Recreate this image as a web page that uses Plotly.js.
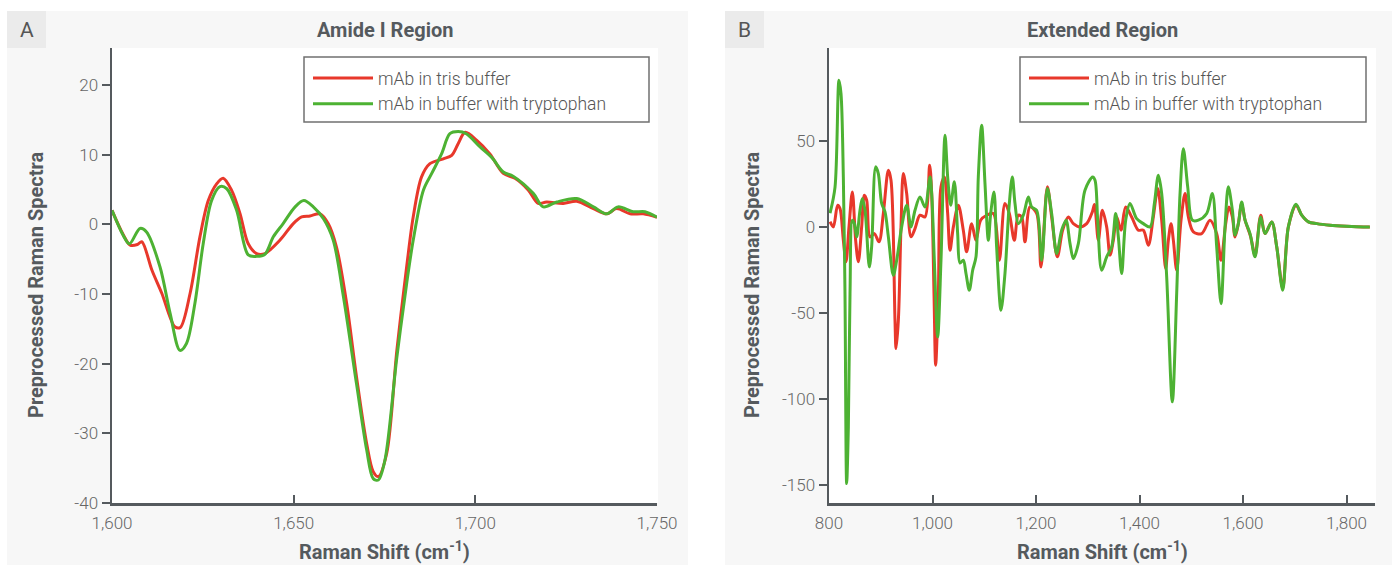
<!DOCTYPE html>
<html><head><meta charset="utf-8">
<script src="https://cdn.plot.ly/plotly-3.0.1.min.js"></script>
<style>html,body{margin:0;padding:0;background:#fff;}#chart{width:1392px;height:565px;}</style>
</head><body><div id="chart"></div>
<script>
// ---------- data ----------
const seriesNames = ["mAb in tris buffer", "mAb in buffer with tryptophan"];
const panelTitles = ["Amide I Region", "Extended Region"];
const panelLetters = ["A", "B"];
const xTitle = "Raman Shift (cm<sup>-1</sup>)";
const yTitle = "Preprocessed Raman Spectra";

const xA_red = [1600,1603,1605,1607,1608.2,1611,1613.7,1617.3,1618.8,1621.5,1624.2,1626.5,1628.8,1630.6,1632.9,1635.2,1637.5,1639.8,1642.1,1646.2,1649.9,1652.2,1654.5,1657.3,1659.5,1661.8,1664.6,1667.3,1670.1,1671.9,1673.3,1675.6,1678.4,1681.1,1682.9,1685.2,1687.5,1691.2,1693.5,1695.3,1697.2,1700.4,1704,1707.7,1710.9,1714.6,1717.3,1719.6,1724.2,1727.9,1732.5,1736.2,1738.9,1742.6,1746.2,1750];
const yA_red = [2,-1.4,-3,-2.9,-2.5,-6.6,-9.9,-14.7,-14.8,-9.9,-1.8,3.4,5.8,6.6,4.9,1.6,-2.8,-4.2,-4.2,-2.3,0.1,1.05,1.2,1.5,0.1,-3.3,-11.4,-21.9,-31.5,-35.5,-36.2,-32.9,-18.1,-6.1,1.05,6.8,8.7,9.4,9.9,11.6,13.2,12.05,10.1,7.3,6.6,4.9,3.0,3.2,3.0,3.3,2.25,1.5,2.25,1.5,1.5,1.0];

const xA_green = [1600,1603.1,1604.8,1607.7,1609.5,1613.2,1616,1618.7,1620.5,1622.8,1625.1,1627.4,1629.7,1631.6,1634.3,1637.5,1639.8,1642.1,1644.4,1647.1,1650.4,1652.8,1655.4,1658.2,1660.9,1663.7,1667.3,1670.1,1671.9,1673.3,1675.1,1678.4,1681.1,1682.9,1685.7,1688,1690.7,1693,1695.3,1697.5,1701.3,1704.5,1707.7,1710.4,1716,1718.7,1722.4,1727.9,1732.5,1736.2,1739.3,1743.4,1746.7,1750];
const yA_green = [2,-1.6,-2.8,-0.6,-1.1,-6.1,-12.8,-18.1,-17.1,-11.4,-2.8,3.4,5.4,5.1,2.0,-4.4,-4.6,-4.3,-1.8,0.1,2.5,3.4,2.5,0.8,-2.3,-10.4,-22.9,-32.4,-36.5,-36.7,-33.9,-19.1,-8.5,-2.3,4.9,7.3,10.1,13.0,13.3,13.0,11.1,9.6,7.5,6.9,4.4,2.5,3.2,3.7,2.5,1.5,2.5,1.8,1.8,1.0];

const xB_red = [802,808.4,816.7,821.3,827.7,832.9,838.6,845.1,851.5,856.7,863.1,868.3,872.8,879.2,887.6,896.6,905,914.7,919.8,927.5,929.5,934,939.1,943.6,950.1,958.5,966.2,975.8,985.5,994.5,998.4,1002.9,1006.1,1011.3,1016.4,1022.9,1029.3,1033.8,1040.3,1049.9,1059.5,1066,1075.6,1084,1093,1104.6,1117.5,1129.1,1140,1148.4,1158.1,1165.8,1172.3,1178.7,1188.4,1201.2,1209.6,1221.9,1230.2,1241.2,1251.5,1262.4,1272.1,1285,1297.9,1308.8,1313,1320.4,1328.2,1336.5,1343,1349.4,1355.9,1364.2,1373.3,1384.8,1397.7,1407.4,1417,1426.7,1435.1,1442.8,1450.5,1455.7,1460.9,1465.4,1471.8,1480.2,1487.9,1494.4,1504,1520.1,1536.2,1549.1,1557.5,1566.5,1572.9,1579.4,1584.6,1591,1597.4,1603.9,1614.8,1623.2,1634.2,1642.5,1655.4,1665.1,1676.7,1687.6,1702.4,1713.4,1726.3,1742.4,1768.1,1800.3,1832.6,1845];
const yB_red = [3,0,12.6,10.7,-7.8,-20.3,0,20.3,-7.8,-20.3,0,18.4,15.5,-5.8,-3.9,-8.7,7.8,32.9,27.1,-54.3,-70.7,-54.3,0,31,19.4,-5.8,-1,6.8,5.8,35.9,19.4,-38.8,-80.4,-38.8,23.3,29,7.8,-13.6,0,12.6,-1.9,-14.5,1.9,-7.8,3.9,6.8,7.8,-19.4,13.6,7.8,-7.8,6.8,5.8,-8.7,11.6,7.8,-23.3,23.3,5.8,-17.4,-1.9,5.8,1.9,0,1.9,8.7,13,-7.8,9.7,0,-16.5,-7.8,5.8,-1.9,11.6,5.8,-1.9,-1.9,-10.7,5.8,22.3,3.9,-24.2,-7.8,1.9,-7.8,-25.2,3.9,19.4,5.8,-2.9,-3.9,3.9,-3.9,-19.4,1.9,11.6,5.8,-5.8,1.9,13.5,3.9,-5.8,-16.5,6.8,-3.9,2.9,-11.6,-35.5,0,12.6,6.8,2.9,1.9,1,0.4,0,0];

const xB_green = [802,811.6,819.3,823.2,827.7,830.9,834.1,837.4,840.6,845.1,849,853.5,859.9,864.4,869.6,877.9,882.4,890.2,895.3,901.8,908.2,914.7,924.3,930.8,940.4,950.1,958.5,966.2,975.8,985.5,995.2,998.4,1003.5,1010,1016.4,1024.2,1029.3,1035.1,1042.2,1048.6,1053.1,1059.5,1064.7,1071.1,1077.6,1084,1088.5,1095,1101.4,1107.9,1112.4,1118.8,1123.9,1132.3,1140,1148.4,1154.2,1159.4,1165.8,1175.5,1185.1,1191.6,1201.2,1210.9,1221.9,1230.2,1239.9,1249.6,1258,1265.7,1272.1,1281.8,1294.6,1309.5,1314,1319.2,1326.9,1336.5,1346.2,1353.9,1359.1,1365.5,1373.3,1381.6,1394.5,1407.4,1420.3,1428.7,1436.4,1442.8,1452.5,1463.4,1471.8,1478.3,1484.7,1493.1,1502.1,1513.7,1529.8,1540.7,1549.1,1557.5,1565.2,1571.6,1579.4,1584.6,1591,1597.4,1603.9,1613.5,1623.2,1634.2,1642.5,1655.4,1665.1,1676.7,1687.6,1702.4,1713.4,1726.3,1742.4,1768.1,1800.3,1832.6,1845];
const yB_green = [8,23,85.3,77.5,29,-38.8,-149.2,-116,-38.8,3.9,1.9,-5.8,9.7,16.5,9.7,-23.3,-11.6,34.9,31,13.6,8.7,-5.8,-28.1,-19.4,0,12.6,0,9.7,17.4,11.6,29,19.4,-19.4,-64,-19.4,53.3,29,12.6,26.2,-3.9,-21,-19.4,-27.1,-36.8,-25.2,-17.4,29,59.1,25.2,-7.8,7.8,20.3,-11.6,-48.4,-27.1,13.6,29,13.6,1.9,6.8,17.4,11.6,9.7,-19.4,22.3,7.8,-15.5,-1.9,3.9,-9.7,-18.4,-9.7,21.3,29,27.1,3.9,-25.2,-17.4,-11.6,7.8,-5.8,-27.1,3.9,13.6,4.8,1.9,0,13.6,30,19.4,-29.1,-101.7,-38.8,19.4,45.5,23.3,3.9,3.9,7.8,19.4,-11.6,-44.6,0,23.3,9.7,-4.8,1.9,14.5,3.9,-3.9,-17.4,5.8,-3.9,2.9,-11.6,-36.8,0,13.2,6.8,2.9,1.9,1,0.4,0,0];

const xTicksA = [1600,1650,1700,1750];
const yTicksA = [-40,-30,-20,-10,0,10,20];
const yTickTextA = ["-40","-30","-20","-10","0","10","20"];
const xTicksB = [800,1000,1200,1400,1600,1800];
const yTicksB = [-150,-100,-50,0,50];
const yTickTextB = ["-150","-100","-50","0","50"];

// ---------- layout helpers ----------
const W = 1392, H = 565;
const px = v => v / W;
const py = v => 1 - v / H;
const RED = "#e8382b", GREEN = "#4db233";
const AX = "#555a5e", TXT = "#666", TITLE = "#555a5e";
const tickFont = {family: "Roboto, 'Open Sans', sans-serif", size: 17, color: TXT, weight: 300};
const boldFont = {family: "Roboto, 'Liberation Sans', sans-serif", size: 20, color: TITLE, weight: 700};

function trace(x, y, color, name, xa, ya, leg, show) {
  return {x, y, type: "scatter", mode: "lines", name, xaxis: xa, yaxis: ya, legend: leg, showlegend: show,
    line: {color, width: 3, shape: "spline", smoothing: 0.9}};
}
const data = [
  trace(xA_red, yA_red, RED, seriesNames[0], "x", "y", "legend", true),
  trace(xA_green, yA_green, GREEN, seriesNames[1], "x", "y", "legend", true),
  trace(xB_red, yB_red, RED, seriesNames[0], "x2", "y2", "legend2", true),
  trace(xB_green, yB_green, GREEN, seriesNames[1], "x2", "y2", "legend2", true)
];

const commonX = {showgrid: false, zeroline: false, showline: true, linecolor: AX, linewidth: 2.5,
  ticks: "inside", ticklen: 8, tickwidth: 2, tickcolor: AX, tickfont: tickFont, tickformat: ",d", ticklabelstandoff: 3, fixedrange: true};
const commonY = {showgrid: false, zeroline: false, showline: true, linecolor: AX, linewidth: 2.5,
  ticks: "outside", ticklen: 8, tickwidth: 2, tickcolor: AX, tickfont: tickFont, tickmode: "array", fixedrange: true};

const legendCommon = {bgcolor: "rgba(0,0,0,0)", borderwidth: 0, font: {family: tickFont.family, size: 17.5, color: "#555", weight: 300},
  xanchor: "left", yanchor: "top", itemwidth: 60, tracegroupgap: 0, itemclick: false, itemdoubleclick: false};

const plotTop = 48, plotBottom = 503;
const layout = {
  width: W, height: H, margin: {l: 0, r: 0, t: 0, b: 0},
  paper_bgcolor: "#ffffff", plot_bgcolor: "#ffffff", showlegend: true,
  xaxis: Object.assign({}, commonX, {domain: [px(112), px(657)], range: [1600, 1750], tickvals: xTicksA, anchor: "y"}),
  yaxis: Object.assign({}, commonY, {domain: [1 - plotBottom / H, 1 - plotTop / H], range: [-40, 25.3], tickvals: yTicksA, ticktext: yTickTextA, anchor: "x"}),
  xaxis2: Object.assign({}, commonX, {domain: [px(829), px(1375)], range: [800, 1855], tickvals: xTicksB, anchor: "y2"}),
  yaxis2: Object.assign({}, commonY, {domain: [1 - plotBottom / H, 1 - plotTop / H], range: [-160.5, 104], tickvals: yTicksB, ticktext: yTickTextB, anchor: "x2"}),
  legend: Object.assign({}, legendCommon, {x: px(308), y: py(60)}),
  legend2: Object.assign({}, legendCommon, {x: px(1024), y: py(60)}),
  shapes: [
    {type: "rect", xref: "paper", yref: "paper", x0: px(7), x1: px(688), y0: 0, y1: py(11), fillcolor: "#f7f7f7", line: {width: 0}, layer: "below"},
    {type: "rect", xref: "paper", yref: "paper", x0: px(725), x1: px(1392), y0: 0, y1: py(11), fillcolor: "#f7f7f7", line: {width: 0}, layer: "below"},
    {type: "rect", xref: "paper", yref: "paper", x0: px(7), x1: px(46), y0: py(48), y1: py(11), fillcolor: "#ebebeb", line: {width: 0}, layer: "below"},
    {type: "rect", xref: "paper", yref: "paper", x0: px(725), x1: px(764), y0: py(48), y1: py(11), fillcolor: "#ebebeb", line: {width: 0}, layer: "below"},
    {type: "rect", xref: "paper", yref: "paper", x0: px(112), x1: px(658), y0: py(plotBottom), y1: py(plotTop), fillcolor: "#ffffff", line: {width: 0}, layer: "below"},
    {type: "rect", xref: "paper", yref: "paper", x0: px(829), x1: px(1376), y0: py(plotBottom), y1: py(plotTop), fillcolor: "#ffffff", line: {width: 0}, layer: "below"},
    {type: "rect", xref: "paper", yref: "paper", x0: px(304), x1: px(649), y0: py(122), y1: py(57), fillcolor: "#ffffff", line: {width: 1.5, color: "#707070"}, layer: "above"},
    {type: "rect", xref: "paper", yref: "paper", x0: px(1020), x1: px(1366), y0: py(122), y1: py(57), fillcolor: "#ffffff", line: {width: 1.5, color: "#707070"}, layer: "above"}
  ],
  annotations: [
    {text: panelLetters[0], xref: "paper", yref: "paper", x: px(26.5), y: py(30), xanchor: "center", yanchor: "middle", showarrow: false, font: {family: "Roboto, sans-serif", size: 21, color: "#555"}},
    {text: panelLetters[1], xref: "paper", yref: "paper", x: px(744.5), y: py(30), xanchor: "center", yanchor: "middle", showarrow: false, font: {family: "Roboto, sans-serif", size: 21, color: "#555"}},
    {text: panelTitles[0], xref: "paper", yref: "paper", x: px(385), y: py(30), xanchor: "center", yanchor: "middle", showarrow: false, font: boldFont},
    {text: panelTitles[1], xref: "paper", yref: "paper", x: px(1102), y: py(30), xanchor: "center", yanchor: "middle", showarrow: false, font: boldFont},
    {text: yTitle, xref: "paper", yref: "paper", x: px(36), y: py(285), xanchor: "center", yanchor: "middle", textangle: -90, showarrow: false, font: boldFont},
    {text: yTitle, xref: "paper", yref: "paper", x: px(752), y: py(285), xanchor: "center", yanchor: "middle", textangle: -90, showarrow: false, font: boldFont},
    {text: xTitle, xref: "paper", yref: "paper", x: px(385), y: py(551), xanchor: "center", yanchor: "middle", showarrow: false, font: boldFont},
    {text: xTitle, xref: "paper", yref: "paper", x: px(1102), y: py(551), xanchor: "center", yanchor: "middle", showarrow: false, font: boldFont}
  ]
};

Plotly.newPlot("chart", data, layout, {displayModeBar: false, staticPlot: true});
</script></body></html>
